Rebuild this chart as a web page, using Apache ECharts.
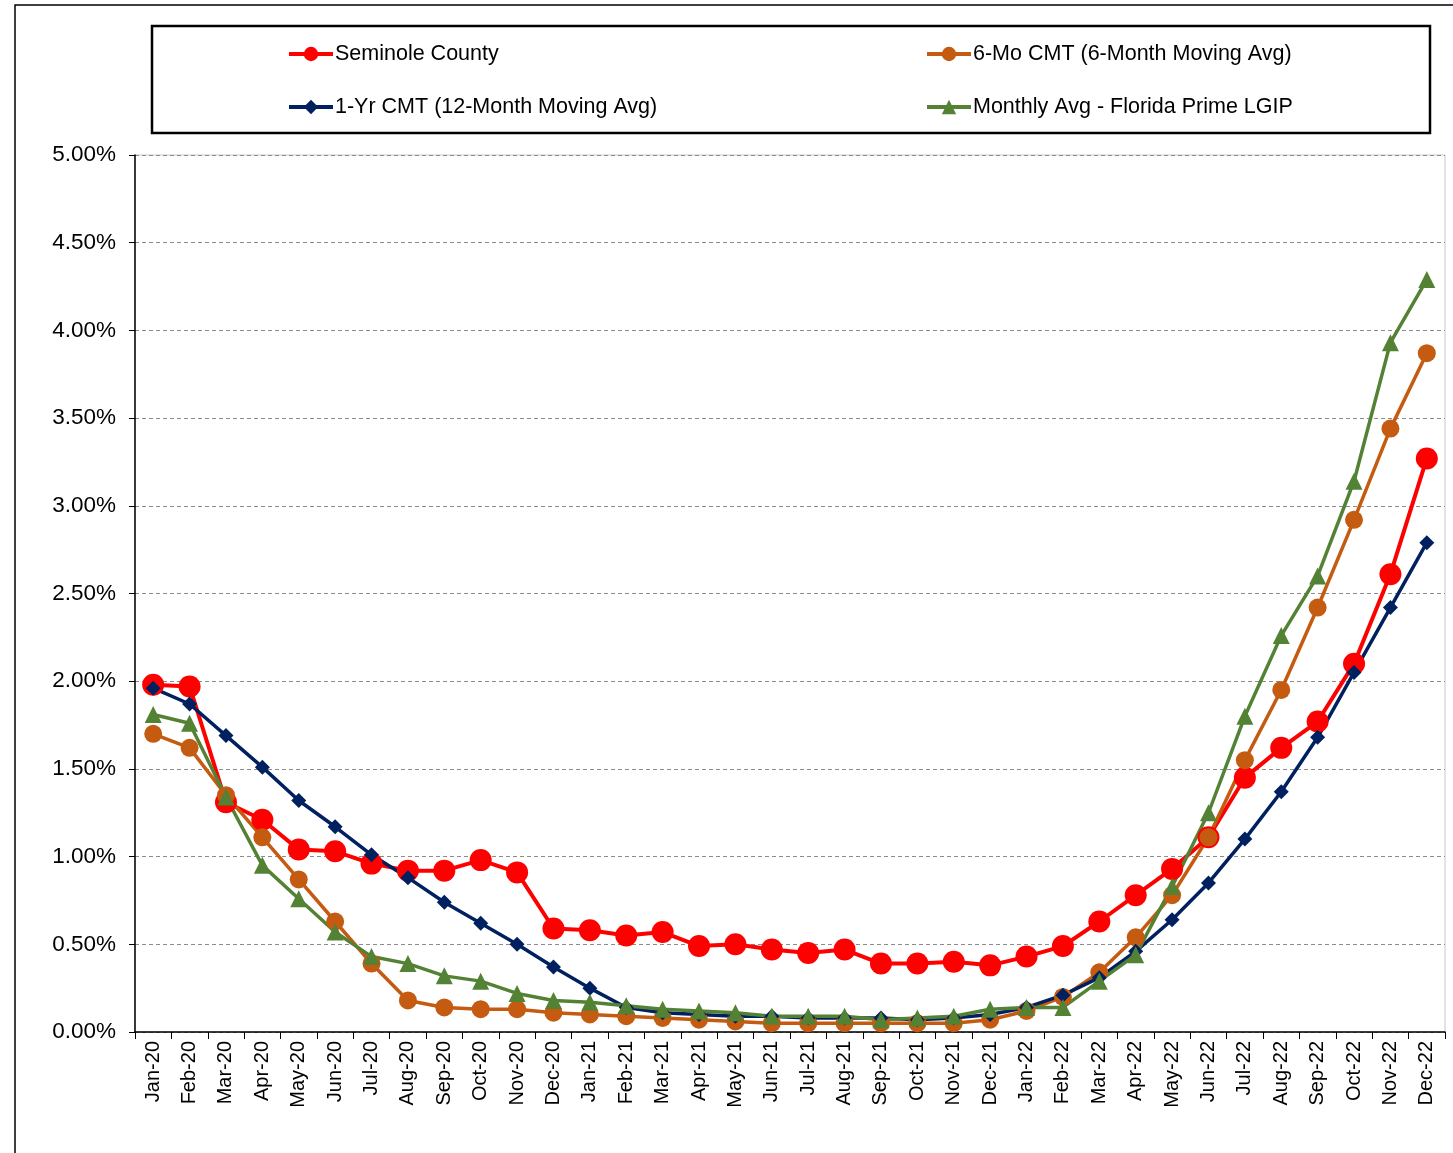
<!DOCTYPE html>
<html>
<head>
<meta charset="utf-8">
<script src="https://cdn.jsdelivr.net/npm/echarts@6/dist/echarts.min.js"></script>
<style>
  html, body { margin: 0; padding: 0; background: #fff; }
  #chart { width: 1453px; height: 1153px; }
</style>
</head>
<body>
<div id="chart"></div>
<script>
// meses (Jan-20 .. Dec-22)
var months = ['Jan-20','Feb-20','Mar-20','Apr-20','May-20','Jun-20','Jul-20','Aug-20','Sep-20','Oct-20','Nov-20','Dec-20',
              'Jan-21','Feb-21','Mar-21','Apr-21','May-21','Jun-21','Jul-21','Aug-21','Sep-21','Oct-21','Nov-21','Dec-21',
              'Jan-22','Feb-22','Mar-22','Apr-22','May-22','Jun-22','Jul-22','Aug-22','Sep-22','Oct-22','Nov-22','Dec-22'];

var seminole = [1.98,1.97,1.31,1.21,1.04,1.03,0.96,0.92,0.92,0.98,0.91,0.59,
                0.58,0.55,0.57,0.49,0.50,0.47,0.45,0.47,0.39,0.39,0.40,0.38,
                0.43,0.49,0.63,0.78,0.93,1.11,1.45,1.62,1.77,2.10,2.61,3.27];

var cmt6 = [1.70,1.62,1.35,1.11,0.87,0.63,0.39,0.18,0.14,0.13,0.13,0.11,
            0.10,0.09,0.08,0.07,0.06,0.05,0.05,0.05,0.05,0.05,0.05,0.07,
            0.12,0.20,0.34,0.54,0.78,1.11,1.55,1.95,2.42,2.92,3.44,3.87];

var cmt12 = [1.96,1.87,1.69,1.51,1.32,1.17,1.01,0.88,0.74,0.62,0.50,0.37,
             0.25,0.14,0.11,0.10,0.09,0.09,0.08,0.08,0.08,0.07,0.08,0.10,
             0.14,0.21,0.31,0.46,0.64,0.85,1.10,1.37,1.68,2.05,2.42,2.79];

var flPrime = [1.81,1.76,1.34,0.95,0.76,0.57,0.43,0.39,0.32,0.29,0.22,0.18,
               0.17,0.15,0.13,0.12,0.11,0.09,0.09,0.09,0.07,0.08,0.09,0.13,
               0.14,0.14,0.29,0.44,0.83,1.25,1.80,2.26,2.60,3.14,3.93,4.29];

var yTicks = [0, 0.5, 1, 1.5, 2, 2.5, 3, 3.5, 4, 4.5, 5];

var names = ['Seminole County', '6-Mo CMT (6-Month Moving Avg)', '1-Yr CMT (12-Month Moving Avg)', 'Monthly Avg - Florida Prime LGIP'];

var chart = echarts.init(document.getElementById('chart'));
var fuente = 'Liberation Sans, Arial, sans-serif';

function linea(nombre, datos, color, simbolo, tam, ancho) {
    return {
        name: nombre,
        type: 'line',
        data: datos,
        symbol: simbolo,
        symbolSize: tam,
        showAllSymbol: true,
        lineStyle: { color: color, width: ancho },
        itemStyle: { color: color },
        emphasis: { disabled: true }
    };
}

// una leyenda por elemento, para colocarlas como en el original
function leyenda(nombre, x, y) {
    return {
        data: [nombre],
        left: x, top: y,
        itemWidth: 44, itemHeight: 18, padding: 0,
        lineStyle: { width: 4 },
        textStyle: { color: '#000', fontSize: 21.5, fontFamily: fuente, padding: [0, 0, 0, -3] }
    };
}

var option = {
    animation: false,
    textStyle: { fontFamily: fuente },
    graphic: [
        { type: 'rect', shape: { x: 15, y: 5, width: 1460, height: 1170 }, style: { fill: 'none', stroke: '#000', lineWidth: 1.5 }, z: -1 },
        { type: 'rect', shape: { x: 152, y: 26, width: 1278, height: 107 }, style: { fill: 'none', stroke: '#000', lineWidth: 2.5 }, z: -1 }
    ],
    legend: [
        leyenda(names[0], 287, 43),
        leyenda(names[1], 925, 43),
        leyenda(names[2], 287, 96),
        leyenda(names[3], 925, 96)
    ],
    grid: { left: 135, right: 8, top: 155, bottom: 121, show: true, borderColor: '#c8c8c8', borderWidth: 1 },
    xAxis: {
        type: 'category',
        data: months,
        boundaryGap: true,
        axisLine: { lineStyle: { color: '#000', width: 1.5 } },
        axisTick: { show: true, alignWithLabel: false, length: 7, lineStyle: { color: '#000' } },
        axisLabel: { rotate: 90, interval: 0, color: '#000', fontSize: 20, fontFamily: fuente, margin: 9 }
    },
    yAxis: {
        type: 'value',
        min: yTicks[0],
        max: yTicks[yTicks.length - 1],
        interval: 0.5,
        axisLine: { show: true, lineStyle: { color: '#000', width: 1.5 } },
        axisTick: { show: true, length: 6, lineStyle: { color: '#000' } },
        axisLabel: { color: '#000', fontSize: 22.5, fontFamily: fuente, margin: 19,
            formatter: function (v) { return v.toFixed(2) + '%'; } },
        splitLine: { lineStyle: { color: '#8c8c8c', type: [4, 3], width: 1 } }
    },
    series: [
        linea(names[0], seminole, '#ff0000', 'circle', 22, 4),
        linea(names[1], cmt6, '#c55a11', 'circle', 18, 3.5),
        linea(names[2], cmt12, '#002060', 'diamond', 15, 3.5),
        linea(names[3], flPrime, '#548235', 'triangle', 17, 3.5)
    ]
};

chart.setOption(option);
</script>
</body>
</html>
